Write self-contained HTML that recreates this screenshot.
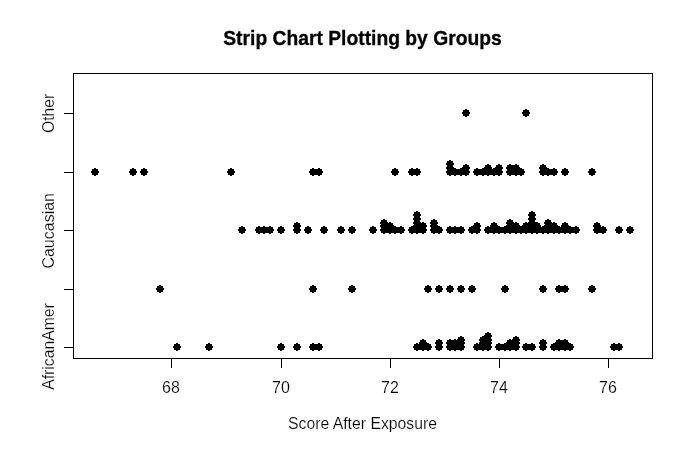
<!DOCTYPE html>
<html><head><meta charset="utf-8"><title>Strip Chart</title>
<style>
html,body{margin:0;padding:0;background:#fff;}
body{width:690px;height:450px;overflow:hidden;font-family:"Liberation Sans",sans-serif;}
svg{display:block;font-family:"Liberation Sans",sans-serif;will-change:transform;}
</style></head><body>
<svg width="690" height="450" viewBox="0 0 690 450">
<rect width="690" height="450" fill="#fff"/>
<g fill="none" stroke="#000" stroke-width="1" shape-rendering="crispEdges">
<rect x="73.5" y="73.5" width="579" height="285"/>
<line x1="171" y1="358.5" x2="609" y2="358.5"/>
<line x1="171.5" y1="358" x2="171.5" y2="368"/><line x1="281.5" y1="358" x2="281.5" y2="368"/><line x1="390.5" y1="358" x2="390.5" y2="368"/><line x1="499.5" y1="358" x2="499.5" y2="368"/><line x1="608.5" y1="358" x2="608.5" y2="368"/>
<line x1="64" y1="113.5" x2="73" y2="113.5"/><line x1="64" y1="172.5" x2="73" y2="172.5"/><line x1="64" y1="230.5" x2="73" y2="230.5"/><line x1="64" y1="289.5" x2="73" y2="289.5"/><line x1="64" y1="347.5" x2="73" y2="347.5"/>
</g>
<g fill="#000" shape-rendering="crispEdges">
<path d="M465,109h2v1h2v2h1v2h-1v2h-2v1h-2v-1h-2v-2h-1v-2h1v-2h2z
M525,109h2v1h2v2h1v2h-1v2h-2v1h-2v-1h-2v-2h-1v-2h1v-2h2z
M94,168h2v1h2v2h1v2h-1v2h-2v1h-2v-1h-2v-2h-1v-2h1v-2h2z
M132,168h2v1h2v2h1v2h-1v2h-2v1h-2v-1h-2v-2h-1v-2h1v-2h2z
M143,168h2v1h2v2h1v2h-1v2h-2v1h-2v-1h-2v-2h-1v-2h1v-2h2z
M230,168h2v1h2v2h1v2h-1v2h-2v1h-2v-1h-2v-2h-1v-2h1v-2h2z
M312,168h2v1h2v2h1v2h-1v2h-2v1h-2v-1h-2v-2h-1v-2h1v-2h2z
M318,168h2v1h2v2h1v2h-1v2h-2v1h-2v-1h-2v-2h-1v-2h1v-2h2z
M394,168h2v1h2v2h1v2h-1v2h-2v1h-2v-1h-2v-2h-1v-2h1v-2h2z
M411,168h2v1h2v2h1v2h-1v2h-2v1h-2v-1h-2v-2h-1v-2h1v-2h2z
M416,168h2v1h2v2h1v2h-1v2h-2v1h-2v-1h-2v-2h-1v-2h1v-2h2z
M449,168h2v1h2v2h1v2h-1v2h-2v1h-2v-1h-2v-2h-1v-2h1v-2h2z
M449,164h2v1h2v2h1v2h-1v2h-2v1h-2v-1h-2v-2h-1v-2h1v-2h2z
M449,160h2v1h2v2h1v2h-1v2h-2v1h-2v-1h-2v-2h-1v-2h1v-2h2z
M454,168h2v1h2v2h1v2h-1v2h-2v1h-2v-1h-2v-2h-1v-2h1v-2h2z
M460,168h2v1h2v2h1v2h-1v2h-2v1h-2v-1h-2v-2h-1v-2h1v-2h2z
M465,168h2v1h2v2h1v2h-1v2h-2v1h-2v-1h-2v-2h-1v-2h1v-2h2z
M465,164h2v1h2v2h1v2h-1v2h-2v1h-2v-1h-2v-2h-1v-2h1v-2h2z
M476,168h2v1h2v2h1v2h-1v2h-2v1h-2v-1h-2v-2h-1v-2h1v-2h2z
M482,168h2v1h2v2h1v2h-1v2h-2v1h-2v-1h-2v-2h-1v-2h1v-2h2z
M487,168h2v1h2v2h1v2h-1v2h-2v1h-2v-1h-2v-2h-1v-2h1v-2h2z
M487,164h2v1h2v2h1v2h-1v2h-2v1h-2v-1h-2v-2h-1v-2h1v-2h2z
M493,168h2v1h2v2h1v2h-1v2h-2v1h-2v-1h-2v-2h-1v-2h1v-2h2z
M498,168h2v1h2v2h1v2h-1v2h-2v1h-2v-1h-2v-2h-1v-2h1v-2h2z
M498,164h2v1h2v2h1v2h-1v2h-2v1h-2v-1h-2v-2h-1v-2h1v-2h2z
M509,168h2v1h2v2h1v2h-1v2h-2v1h-2v-1h-2v-2h-1v-2h1v-2h2z
M509,164h2v1h2v2h1v2h-1v2h-2v1h-2v-1h-2v-2h-1v-2h1v-2h2z
M515,168h2v1h2v2h1v2h-1v2h-2v1h-2v-1h-2v-2h-1v-2h1v-2h2z
M515,164h2v1h2v2h1v2h-1v2h-2v1h-2v-1h-2v-2h-1v-2h1v-2h2z
M520,168h2v1h2v2h1v2h-1v2h-2v1h-2v-1h-2v-2h-1v-2h1v-2h2z
M542,168h2v1h2v2h1v2h-1v2h-2v1h-2v-1h-2v-2h-1v-2h1v-2h2z
M542,164h2v1h2v2h1v2h-1v2h-2v1h-2v-1h-2v-2h-1v-2h1v-2h2z
M547,168h2v1h2v2h1v2h-1v2h-2v1h-2v-1h-2v-2h-1v-2h1v-2h2z
M553,168h2v1h2v2h1v2h-1v2h-2v1h-2v-1h-2v-2h-1v-2h1v-2h2z
M564,168h2v1h2v2h1v2h-1v2h-2v1h-2v-1h-2v-2h-1v-2h1v-2h2z
M591,168h2v1h2v2h1v2h-1v2h-2v1h-2v-1h-2v-2h-1v-2h1v-2h2z
M241,226h2v1h2v2h1v2h-1v2h-2v1h-2v-1h-2v-2h-1v-2h1v-2h2z
M258,226h2v1h2v2h1v2h-1v2h-2v1h-2v-1h-2v-2h-1v-2h1v-2h2z
M263,226h2v1h2v2h1v2h-1v2h-2v1h-2v-1h-2v-2h-1v-2h1v-2h2z
M269,226h2v1h2v2h1v2h-1v2h-2v1h-2v-1h-2v-2h-1v-2h1v-2h2z
M280,226h2v1h2v2h1v2h-1v2h-2v1h-2v-1h-2v-2h-1v-2h1v-2h2z
M296,226h2v1h2v2h1v2h-1v2h-2v1h-2v-1h-2v-2h-1v-2h1v-2h2z
M296,222h2v1h2v2h1v2h-1v2h-2v1h-2v-1h-2v-2h-1v-2h1v-2h2z
M307,226h2v1h2v2h1v2h-1v2h-2v1h-2v-1h-2v-2h-1v-2h1v-2h2z
M323,226h2v1h2v2h1v2h-1v2h-2v1h-2v-1h-2v-2h-1v-2h1v-2h2z
M340,226h2v1h2v2h1v2h-1v2h-2v1h-2v-1h-2v-2h-1v-2h1v-2h2z
M351,226h2v1h2v2h1v2h-1v2h-2v1h-2v-1h-2v-2h-1v-2h1v-2h2z
M372,226h2v1h2v2h1v2h-1v2h-2v1h-2v-1h-2v-2h-1v-2h1v-2h2z
M383,226h2v1h2v2h1v2h-1v2h-2v1h-2v-1h-2v-2h-1v-2h1v-2h2z
M383,222h2v1h2v2h1v2h-1v2h-2v1h-2v-1h-2v-2h-1v-2h1v-2h2z
M383,219h2v1h2v2h1v2h-1v2h-2v1h-2v-1h-2v-2h-1v-2h1v-2h2z
M389,226h2v1h2v2h1v2h-1v2h-2v1h-2v-1h-2v-2h-1v-2h1v-2h2z
M389,222h2v1h2v2h1v2h-1v2h-2v1h-2v-1h-2v-2h-1v-2h1v-2h2z
M394,226h2v1h2v2h1v2h-1v2h-2v1h-2v-1h-2v-2h-1v-2h1v-2h2z
M400,226h2v1h2v2h1v2h-1v2h-2v1h-2v-1h-2v-2h-1v-2h1v-2h2z
M411,226h2v1h2v2h1v2h-1v2h-2v1h-2v-1h-2v-2h-1v-2h1v-2h2z
M416,226h2v1h2v2h1v2h-1v2h-2v1h-2v-1h-2v-2h-1v-2h1v-2h2z
M416,222h2v1h2v2h1v2h-1v2h-2v1h-2v-1h-2v-2h-1v-2h1v-2h2z
M416,219h2v1h2v2h1v2h-1v2h-2v1h-2v-1h-2v-2h-1v-2h1v-2h2z
M416,215h2v1h2v2h1v2h-1v2h-2v1h-2v-1h-2v-2h-1v-2h1v-2h2z
M416,211h2v1h2v2h1v2h-1v2h-2v1h-2v-1h-2v-2h-1v-2h1v-2h2z
M422,226h2v1h2v2h1v2h-1v2h-2v1h-2v-1h-2v-2h-1v-2h1v-2h2z
M422,222h2v1h2v2h1v2h-1v2h-2v1h-2v-1h-2v-2h-1v-2h1v-2h2z
M433,226h2v1h2v2h1v2h-1v2h-2v1h-2v-1h-2v-2h-1v-2h1v-2h2z
M433,222h2v1h2v2h1v2h-1v2h-2v1h-2v-1h-2v-2h-1v-2h1v-2h2z
M433,219h2v1h2v2h1v2h-1v2h-2v1h-2v-1h-2v-2h-1v-2h1v-2h2z
M438,226h2v1h2v2h1v2h-1v2h-2v1h-2v-1h-2v-2h-1v-2h1v-2h2z
M449,226h2v1h2v2h1v2h-1v2h-2v1h-2v-1h-2v-2h-1v-2h1v-2h2z
M454,226h2v1h2v2h1v2h-1v2h-2v1h-2v-1h-2v-2h-1v-2h1v-2h2z
M460,226h2v1h2v2h1v2h-1v2h-2v1h-2v-1h-2v-2h-1v-2h1v-2h2z
M471,226h2v1h2v2h1v2h-1v2h-2v1h-2v-1h-2v-2h-1v-2h1v-2h2z
M476,226h2v1h2v2h1v2h-1v2h-2v1h-2v-1h-2v-2h-1v-2h1v-2h2z
M476,222h2v1h2v2h1v2h-1v2h-2v1h-2v-1h-2v-2h-1v-2h1v-2h2z
M487,226h2v1h2v2h1v2h-1v2h-2v1h-2v-1h-2v-2h-1v-2h1v-2h2z
M493,226h2v1h2v2h1v2h-1v2h-2v1h-2v-1h-2v-2h-1v-2h1v-2h2z
M493,222h2v1h2v2h1v2h-1v2h-2v1h-2v-1h-2v-2h-1v-2h1v-2h2z
M498,226h2v1h2v2h1v2h-1v2h-2v1h-2v-1h-2v-2h-1v-2h1v-2h2z
M504,226h2v1h2v2h1v2h-1v2h-2v1h-2v-1h-2v-2h-1v-2h1v-2h2z
M509,226h2v1h2v2h1v2h-1v2h-2v1h-2v-1h-2v-2h-1v-2h1v-2h2z
M509,222h2v1h2v2h1v2h-1v2h-2v1h-2v-1h-2v-2h-1v-2h1v-2h2z
M509,219h2v1h2v2h1v2h-1v2h-2v1h-2v-1h-2v-2h-1v-2h1v-2h2z
M515,226h2v1h2v2h1v2h-1v2h-2v1h-2v-1h-2v-2h-1v-2h1v-2h2z
M515,222h2v1h2v2h1v2h-1v2h-2v1h-2v-1h-2v-2h-1v-2h1v-2h2z
M520,226h2v1h2v2h1v2h-1v2h-2v1h-2v-1h-2v-2h-1v-2h1v-2h2z
M525,226h2v1h2v2h1v2h-1v2h-2v1h-2v-1h-2v-2h-1v-2h1v-2h2z
M525,222h2v1h2v2h1v2h-1v2h-2v1h-2v-1h-2v-2h-1v-2h1v-2h2z
M531,226h2v1h2v2h1v2h-1v2h-2v1h-2v-1h-2v-2h-1v-2h1v-2h2z
M531,222h2v1h2v2h1v2h-1v2h-2v1h-2v-1h-2v-2h-1v-2h1v-2h2z
M531,219h2v1h2v2h1v2h-1v2h-2v1h-2v-1h-2v-2h-1v-2h1v-2h2z
M531,215h2v1h2v2h1v2h-1v2h-2v1h-2v-1h-2v-2h-1v-2h1v-2h2z
M531,211h2v1h2v2h1v2h-1v2h-2v1h-2v-1h-2v-2h-1v-2h1v-2h2z
M536,226h2v1h2v2h1v2h-1v2h-2v1h-2v-1h-2v-2h-1v-2h1v-2h2z
M536,222h2v1h2v2h1v2h-1v2h-2v1h-2v-1h-2v-2h-1v-2h1v-2h2z
M542,226h2v1h2v2h1v2h-1v2h-2v1h-2v-1h-2v-2h-1v-2h1v-2h2z
M547,226h2v1h2v2h1v2h-1v2h-2v1h-2v-1h-2v-2h-1v-2h1v-2h2z
M547,222h2v1h2v2h1v2h-1v2h-2v1h-2v-1h-2v-2h-1v-2h1v-2h2z
M547,219h2v1h2v2h1v2h-1v2h-2v1h-2v-1h-2v-2h-1v-2h1v-2h2z
M553,226h2v1h2v2h1v2h-1v2h-2v1h-2v-1h-2v-2h-1v-2h1v-2h2z
M553,222h2v1h2v2h1v2h-1v2h-2v1h-2v-1h-2v-2h-1v-2h1v-2h2z
M558,226h2v1h2v2h1v2h-1v2h-2v1h-2v-1h-2v-2h-1v-2h1v-2h2z
M564,226h2v1h2v2h1v2h-1v2h-2v1h-2v-1h-2v-2h-1v-2h1v-2h2z
M564,222h2v1h2v2h1v2h-1v2h-2v1h-2v-1h-2v-2h-1v-2h1v-2h2z
M569,226h2v1h2v2h1v2h-1v2h-2v1h-2v-1h-2v-2h-1v-2h1v-2h2z
M575,226h2v1h2v2h1v2h-1v2h-2v1h-2v-1h-2v-2h-1v-2h1v-2h2z
M596,226h2v1h2v2h1v2h-1v2h-2v1h-2v-1h-2v-2h-1v-2h1v-2h2z
M596,222h2v1h2v2h1v2h-1v2h-2v1h-2v-1h-2v-2h-1v-2h1v-2h2z
M602,226h2v1h2v2h1v2h-1v2h-2v1h-2v-1h-2v-2h-1v-2h1v-2h2z
M618,226h2v1h2v2h1v2h-1v2h-2v1h-2v-1h-2v-2h-1v-2h1v-2h2z
M629,226h2v1h2v2h1v2h-1v2h-2v1h-2v-1h-2v-2h-1v-2h1v-2h2z
M159,285h2v1h2v2h1v2h-1v2h-2v1h-2v-1h-2v-2h-1v-2h1v-2h2z
M312,285h2v1h2v2h1v2h-1v2h-2v1h-2v-1h-2v-2h-1v-2h1v-2h2z
M351,285h2v1h2v2h1v2h-1v2h-2v1h-2v-1h-2v-2h-1v-2h1v-2h2z
M427,285h2v1h2v2h1v2h-1v2h-2v1h-2v-1h-2v-2h-1v-2h1v-2h2z
M438,285h2v1h2v2h1v2h-1v2h-2v1h-2v-1h-2v-2h-1v-2h1v-2h2z
M449,285h2v1h2v2h1v2h-1v2h-2v1h-2v-1h-2v-2h-1v-2h1v-2h2z
M460,285h2v1h2v2h1v2h-1v2h-2v1h-2v-1h-2v-2h-1v-2h1v-2h2z
M471,285h2v1h2v2h1v2h-1v2h-2v1h-2v-1h-2v-2h-1v-2h1v-2h2z
M504,285h2v1h2v2h1v2h-1v2h-2v1h-2v-1h-2v-2h-1v-2h1v-2h2z
M542,285h2v1h2v2h1v2h-1v2h-2v1h-2v-1h-2v-2h-1v-2h1v-2h2z
M558,285h2v1h2v2h1v2h-1v2h-2v1h-2v-1h-2v-2h-1v-2h1v-2h2z
M564,285h2v1h2v2h1v2h-1v2h-2v1h-2v-1h-2v-2h-1v-2h1v-2h2z
M591,285h2v1h2v2h1v2h-1v2h-2v1h-2v-1h-2v-2h-1v-2h1v-2h2z
M176,343h2v1h2v2h1v2h-1v2h-2v1h-2v-1h-2v-2h-1v-2h1v-2h2z
M208,343h2v1h2v2h1v2h-1v2h-2v1h-2v-1h-2v-2h-1v-2h1v-2h2z
M280,343h2v1h2v2h1v2h-1v2h-2v1h-2v-1h-2v-2h-1v-2h1v-2h2z
M296,343h2v1h2v2h1v2h-1v2h-2v1h-2v-1h-2v-2h-1v-2h1v-2h2z
M312,343h2v1h2v2h1v2h-1v2h-2v1h-2v-1h-2v-2h-1v-2h1v-2h2z
M318,343h2v1h2v2h1v2h-1v2h-2v1h-2v-1h-2v-2h-1v-2h1v-2h2z
M416,343h2v1h2v2h1v2h-1v2h-2v1h-2v-1h-2v-2h-1v-2h1v-2h2z
M422,343h2v1h2v2h1v2h-1v2h-2v1h-2v-1h-2v-2h-1v-2h1v-2h2z
M422,339h2v1h2v2h1v2h-1v2h-2v1h-2v-1h-2v-2h-1v-2h1v-2h2z
M427,343h2v1h2v2h1v2h-1v2h-2v1h-2v-1h-2v-2h-1v-2h1v-2h2z
M438,343h2v1h2v2h1v2h-1v2h-2v1h-2v-1h-2v-2h-1v-2h1v-2h2z
M438,339h2v1h2v2h1v2h-1v2h-2v1h-2v-1h-2v-2h-1v-2h1v-2h2z
M449,343h2v1h2v2h1v2h-1v2h-2v1h-2v-1h-2v-2h-1v-2h1v-2h2z
M449,339h2v1h2v2h1v2h-1v2h-2v1h-2v-1h-2v-2h-1v-2h1v-2h2z
M454,343h2v1h2v2h1v2h-1v2h-2v1h-2v-1h-2v-2h-1v-2h1v-2h2z
M454,339h2v1h2v2h1v2h-1v2h-2v1h-2v-1h-2v-2h-1v-2h1v-2h2z
M460,343h2v1h2v2h1v2h-1v2h-2v1h-2v-1h-2v-2h-1v-2h1v-2h2z
M460,339h2v1h2v2h1v2h-1v2h-2v1h-2v-1h-2v-2h-1v-2h1v-2h2z
M460,336h2v1h2v2h1v2h-1v2h-2v1h-2v-1h-2v-2h-1v-2h1v-2h2z
M476,343h2v1h2v2h1v2h-1v2h-2v1h-2v-1h-2v-2h-1v-2h1v-2h2z
M482,343h2v1h2v2h1v2h-1v2h-2v1h-2v-1h-2v-2h-1v-2h1v-2h2z
M482,339h2v1h2v2h1v2h-1v2h-2v1h-2v-1h-2v-2h-1v-2h1v-2h2z
M482,336h2v1h2v2h1v2h-1v2h-2v1h-2v-1h-2v-2h-1v-2h1v-2h2z
M487,343h2v1h2v2h1v2h-1v2h-2v1h-2v-1h-2v-2h-1v-2h1v-2h2z
M487,339h2v1h2v2h1v2h-1v2h-2v1h-2v-1h-2v-2h-1v-2h1v-2h2z
M487,336h2v1h2v2h1v2h-1v2h-2v1h-2v-1h-2v-2h-1v-2h1v-2h2z
M487,332h2v1h2v2h1v2h-1v2h-2v1h-2v-1h-2v-2h-1v-2h1v-2h2z
M498,343h2v1h2v2h1v2h-1v2h-2v1h-2v-1h-2v-2h-1v-2h1v-2h2z
M504,343h2v1h2v2h1v2h-1v2h-2v1h-2v-1h-2v-2h-1v-2h1v-2h2z
M509,343h2v1h2v2h1v2h-1v2h-2v1h-2v-1h-2v-2h-1v-2h1v-2h2z
M509,339h2v1h2v2h1v2h-1v2h-2v1h-2v-1h-2v-2h-1v-2h1v-2h2z
M515,343h2v1h2v2h1v2h-1v2h-2v1h-2v-1h-2v-2h-1v-2h1v-2h2z
M515,339h2v1h2v2h1v2h-1v2h-2v1h-2v-1h-2v-2h-1v-2h1v-2h2z
M515,336h2v1h2v2h1v2h-1v2h-2v1h-2v-1h-2v-2h-1v-2h1v-2h2z
M525,343h2v1h2v2h1v2h-1v2h-2v1h-2v-1h-2v-2h-1v-2h1v-2h2z
M531,343h2v1h2v2h1v2h-1v2h-2v1h-2v-1h-2v-2h-1v-2h1v-2h2z
M542,343h2v1h2v2h1v2h-1v2h-2v1h-2v-1h-2v-2h-1v-2h1v-2h2z
M542,339h2v1h2v2h1v2h-1v2h-2v1h-2v-1h-2v-2h-1v-2h1v-2h2z
M553,343h2v1h2v2h1v2h-1v2h-2v1h-2v-1h-2v-2h-1v-2h1v-2h2z
M558,343h2v1h2v2h1v2h-1v2h-2v1h-2v-1h-2v-2h-1v-2h1v-2h2z
M558,339h2v1h2v2h1v2h-1v2h-2v1h-2v-1h-2v-2h-1v-2h1v-2h2z
M564,343h2v1h2v2h1v2h-1v2h-2v1h-2v-1h-2v-2h-1v-2h1v-2h2z
M564,339h2v1h2v2h1v2h-1v2h-2v1h-2v-1h-2v-2h-1v-2h1v-2h2z
M569,343h2v1h2v2h1v2h-1v2h-2v1h-2v-1h-2v-2h-1v-2h1v-2h2z
M613,343h2v1h2v2h1v2h-1v2h-2v1h-2v-1h-2v-2h-1v-2h1v-2h2z
M618,343h2v1h2v2h1v2h-1v2h-2v1h-2v-1h-2v-2h-1v-2h1v-2h2z"/>
</g>
<g fill="#000" font-size="16px" stroke="#fff" stroke-width="0.17">
<text x="362.5" y="44.6" text-anchor="middle" font-size="20.6px" font-weight="bold" stroke="#000" stroke-width="0.3" textLength="278.5" lengthAdjust="spacingAndGlyphs">Strip Chart Plotting by Groups</text>
<text x="362.5" y="429" text-anchor="middle" textLength="149" lengthAdjust="spacingAndGlyphs">Score After Exposure</text>
<text x="170.9" y="393" text-anchor="middle">68</text><text x="280.9" y="393" text-anchor="middle">70</text><text x="389.9" y="393" text-anchor="middle">72</text><text x="498.9" y="393" text-anchor="middle">74</text><text x="607.9" y="393" text-anchor="middle">76</text>
<text transform="translate(53.7,346.5) rotate(-90)" text-anchor="middle" textLength="86.5" lengthAdjust="spacingAndGlyphs">AfricanAmer</text>
<text transform="translate(53.7,230.8) rotate(-90)" text-anchor="middle">Caucasian</text>
<text transform="translate(53.7,113.4) rotate(-90)" text-anchor="middle" textLength="39" lengthAdjust="spacingAndGlyphs">Other</text>
</g>
</svg>
</body></html>
